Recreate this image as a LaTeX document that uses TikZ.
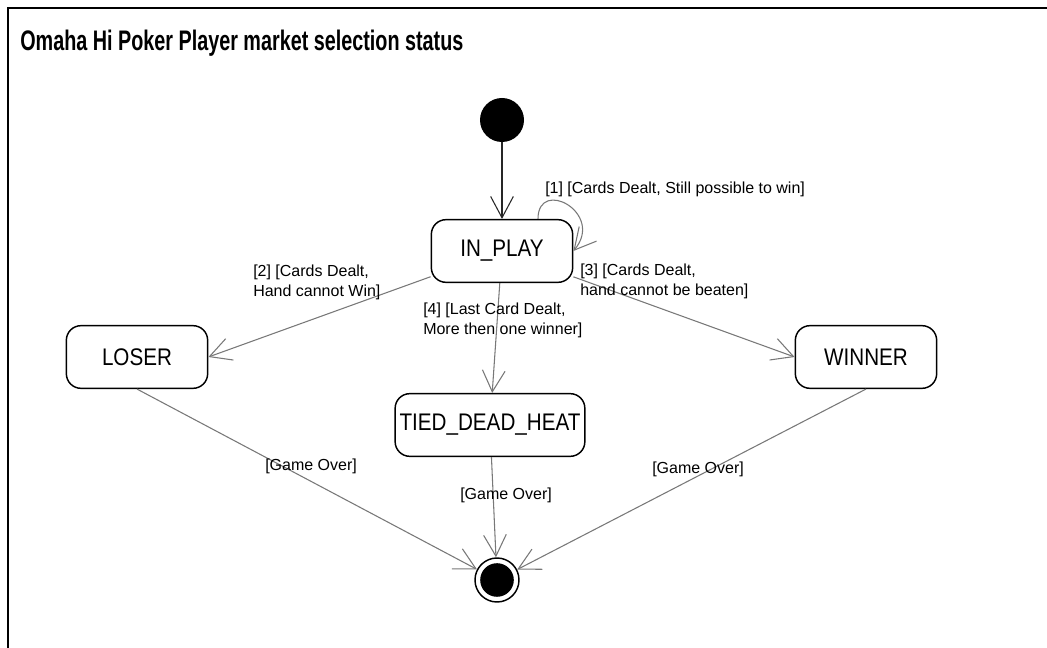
\documentclass[tikz,border=0pt]{standalone}
\usepackage{fontspec}
\setmainfont{Liberation Sans}
\newfontfamily\statefont[FakeStretch=0.86]{Liberation Sans}
\newfontfamily\titlefont[FakeStretch=0.7]{Liberation Sans}
\usepackage{tikz}
\usetikzlibrary{arrows.meta, positioning}
\definecolor{edgeGray}{RGB}{120, 120, 120}

\begin{document}
\begin{tikzpicture}[x=0.75pt, y=-0.75pt,
  statebox/.style={rectangle, rounded corners=11pt, draw=black, line width=1.1pt,
                   fill=white, minimum width=106pt, minimum height=47pt,
                   font=\statefont\fontsize{18}{21}\selectfont},
  initial/.style={circle, fill=black, minimum size=33pt, inner sep=0pt},
  final/.style={circle, draw=black, line width=1.1pt, fill=white, minimum size=33pt,
                inner sep=0pt, path picture={\fill[black] (path picture bounding box.center) circle (12.6pt);}},
  edge/.style={draw=edgeGray, line width=0.8pt, -{Straight Barb[length=16pt, width=17pt]}},
  guard/.style={font=\fontsize{12}{15}\selectfont, inner sep=0pt, align=left},
]
  \useasboundingbox (0,0) rectangle (1047,648);
  % frame, cut at right and bottom
  \draw[line width=1.1pt] (8,648) -- (8,8) -- (1047,8);
  \node[anchor=base west, inner sep=0pt, font=\titlefont\fontsize{21.2}{25}\selectfont\bfseries]
    (title) at (20,51) {Omaha Hi Poker Player market selection status};

  % states
  \node[initial] (start) at (502,120) {};
  \node[statebox] (inplay) at (502,251) {IN\_PLAY};
  \node[statebox] (loser) at (137,357) {LOSER};
  \node[statebox] (winner) at (866,357) {WINNER};
  \node[statebox, minimum width=142pt] (tied) at (490,425) {TIED\_DEAD\_HEAT};
  \node[final] (end) at (497,580) {};

  % transitions
  \draw[edge, draw=black!85] (start) -- (inplay);
  \draw[edge] ([xshift=27pt]inplay.north) .. controls +(0,-42) and +(32,-38) .. (inplay.east);
  \draw[edge] (inplay) -- (loser.east);
  \draw[edge] (inplay) -- (winner.west);
  \draw[edge] (inplay) -- (tied);
  \draw[edge] (loser.south) -- (end);
  \draw[edge] (tied) -- (end);
  \draw[edge] (winner.south) -- (end);

  % guards
  \node[guard, anchor=base west] (g1) at (545,194) {[1] [Cards Dealt, Still possible to win]};
  \node[guard, anchor=north west] (g2) at (253,265) {[2] [Cards Dealt,\\Hand cannot Win]};
  \node[guard, anchor=north west] (g3) at (580,264) {[3] [Cards Dealt,\\hand cannot be beaten]};
  \node[guard, anchor=north west] (g4) at (423,303) {[4] [Last Card Dealt,\\More then one winner]};
  \node[guard, anchor=base west] (g5) at (265,471) {[Game Over]};
  \node[guard, anchor=base west] (g6) at (460,500) {[Game Over]};
  \node[guard, anchor=base west] (g7) at (652,474) {[Game Over]};
\end{tikzpicture}
\end{document}
